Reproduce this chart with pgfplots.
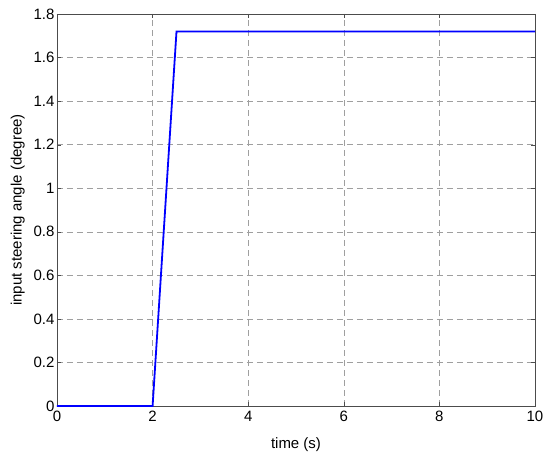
\documentclass[border=0pt]{standalone}
\usepackage{pgfplots}
\pgfplotsset{compat=1.18}
\usepackage{fontspec}
\setmainfont{Liberation Sans}
\begin{document}
\begin{tikzpicture}
\begin{axis}[
  scale only axis,
  width=478pt, height=392pt,
  xmin=0, xmax=10, ymin=0, ymax=1.8,
  xtick={0,2,...,10},
  ytick={0,0.2,...,1.8},
  yticklabel style={/pgf/number format/fixed, /pgf/number format/precision=1, xshift=1pt},
  /pgf/number format/assume math mode=true,
  xlabel={time (s)}, ylabel={input steering angle (degree)},
  tick label style={font=\fontsize{15}{17}\selectfont},
  label style={font=\fontsize{15}{17}\selectfont},
  xticklabel style={yshift=-2pt},
  xlabel style={yshift=-9pt},
  ylabel style={yshift=2pt},
  axis line style={gray!60!black},
  tick style={gray!60!black},
  tick align=inside,
  major tick length=4pt,
  grid=major,
  grid style={gray!75, dash pattern=on 6pt off 4pt},
  clip=false,
  after end axis/.code={
    \path (rel axis cs:0,0) ++(-57pt,-50pt);
    \path (rel axis cs:1,1) ++(15pt,14pt);
  },
]
\addplot[blue, line width=1.8pt] coordinates {(0,0) (2,0) (2.5,1.72) (10,1.72)};
\end{axis}
\end{tikzpicture}
\end{document}
